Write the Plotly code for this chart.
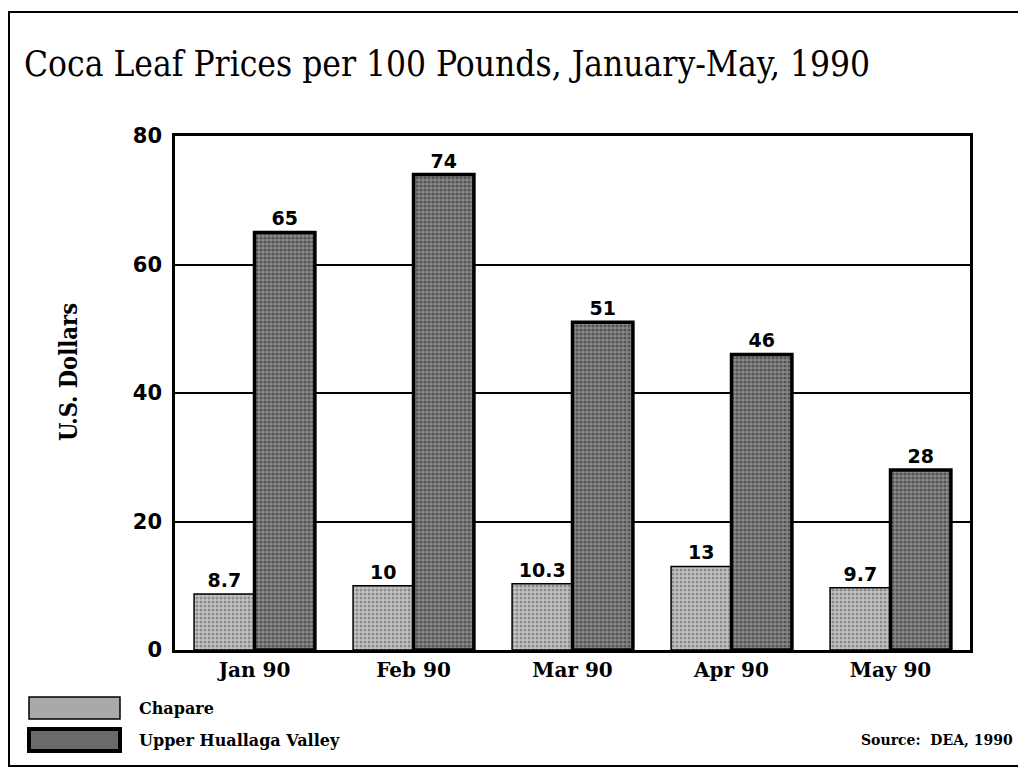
import plotly.graph_objects as go

months = ["Jan 90", "Feb 90", "Mar 90", "Apr 90", "May 90"]
chapare = [8.7, 10, 10.3, 13, 9.7]
huallaga = [65, 74, 51, 46, 28]
chapare_labels = ["8.7", "10", "10.3", "13", "9.7"]
huallaga_labels = ["65", "74", "51", "46", "28"]
y_ticks = [0, 20, 40, 60, 80]
series_names = ["Chapare", "Upper Huallaga Valley"]

# page body has an 8px margin; figure coordinates = reference pixel - 8
OFF = 8
W, H = 1018, 763
L, R, T, B = 175 - OFF, 56, 136 - OFF, 121
pw, ph = W - L - R, H - T - B


def px(x):
    return (x - OFF - L) / pw


def py(y):
    return (H - B - (y - OFF)) / ph


SERIF = "DejaVu Serif"
SERIF_C = "DejaVu Serif Condensed, DejaVu Serif"
SANS = "DejaVu Sans"

chapare_marker = dict(color="#b4b4b4", line=dict(color="black", width=1.5),
                      pattern=dict(shape=".", fgcolor="#505050", bgcolor="#c4c4c4", size=4, solidity=0.45))
huallaga_marker = dict(color="#6e6e6e", line=dict(color="black", width=3.5),
                       pattern=dict(shape=".", fgcolor="#1e1e1e", bgcolor="#8a8a8a", size=4, solidity=0.5))

fig = go.Figure()
fig.add_trace(go.Bar(
    x=months, y=chapare, name=series_names[0],
    text=[f"<b>{t}</b>" for t in chapare_labels], textposition="outside",
    textfont=dict(family=SANS, size=19, color="black"),
    marker=chapare_marker, cliponaxis=False, showlegend=False,
))
fig.add_trace(go.Bar(
    x=months, y=huallaga, name=series_names[1],
    text=[f"<b>{t}</b>" for t in huallaga_labels], textposition="outside",
    textfont=dict(family=SANS, size=19, color="black"),
    marker=huallaga_marker, cliponaxis=False, showlegend=False,
))

fig.update_layout(
    width=W, height=H,
    margin=dict(l=L, r=R, t=T, b=B),
    paper_bgcolor="white", plot_bgcolor="white",
    barmode="group", bargap=0.24, bargroupgap=0,
    showlegend=False,
    font=dict(family=SERIF, color="black"),
)
fig.update_xaxes(
    showline=True, linecolor="black", linewidth=2.5, mirror=True,
    tickfont=dict(family=SERIF, size=20, color="black"),
    ticks="", tickprefix="<b>", ticksuffix="</b>",
)
fig.update_yaxes(
    range=[0, 80], tickvals=y_ticks,
    ticktext=[f"<b>{v}</b>" for v in y_ticks],
    tickfont=dict(family=SANS, size=21, color="black"),
    showline=True, linecolor="black", linewidth=2.5, mirror=True,
    showgrid=True, gridcolor="black", gridwidth=1.5,
    zeroline=False, ticks="", ticklen=0, ticklabelstandoff=6,
)

# page frame
fig.add_shape(type="rect", xref="paper", yref="paper",
              x0=px(9), x1=px(1040), y0=py(766), y1=py(12),
              line=dict(color="black", width=2), layer="below")

# title
fig.add_annotation(text="Coca Leaf Prices per 100 Pounds, January-May, 1990",
                   xref="paper", yref="paper", x=px(22), y=py(64),
                   xanchor="left", yanchor="middle", showarrow=False,
                   font=dict(family=SERIF_C, size=35, color="black"))
# y axis title
fig.add_annotation(text="<b>U.S. Dollars</b>", textangle=-90,
                   xref="paper", yref="paper", x=px(69), y=py(372),
                   xanchor="center", yanchor="middle", showarrow=False,
                   font=dict(family=SERIF_C, size=23.5, color="black"))
# source
fig.add_annotation(text="<b>Source:  DEA, 1990</b>",
                   xref="paper", yref="paper", x=px(1015), y=py(740),
                   xanchor="right", yanchor="middle", showarrow=False,
                   font=dict(family=SERIF, size=14, color="black"))

# legend (swatches + labels)
legend_rows = [(708, "#a9a9a9", 1.5), (740, "#6a6a6a", 4)]
for name, (yc, fill, lw) in zip(series_names, legend_rows):
    fig.add_shape(type="rect", xref="paper", yref="paper",
                  x0=px(29), x1=px(120), y0=py(yc + 11), y1=py(yc - 11),
                  fillcolor=fill, line=dict(color="black", width=lw))
    fig.add_annotation(text=f"<b>{name}</b>", xref="paper", yref="paper",
                       x=px(137), y=py(yc), xanchor="left", yanchor="middle",
                       showarrow=False, font=dict(family=SERIF, size=16, color="black"))

fig.write_html("out.html")
